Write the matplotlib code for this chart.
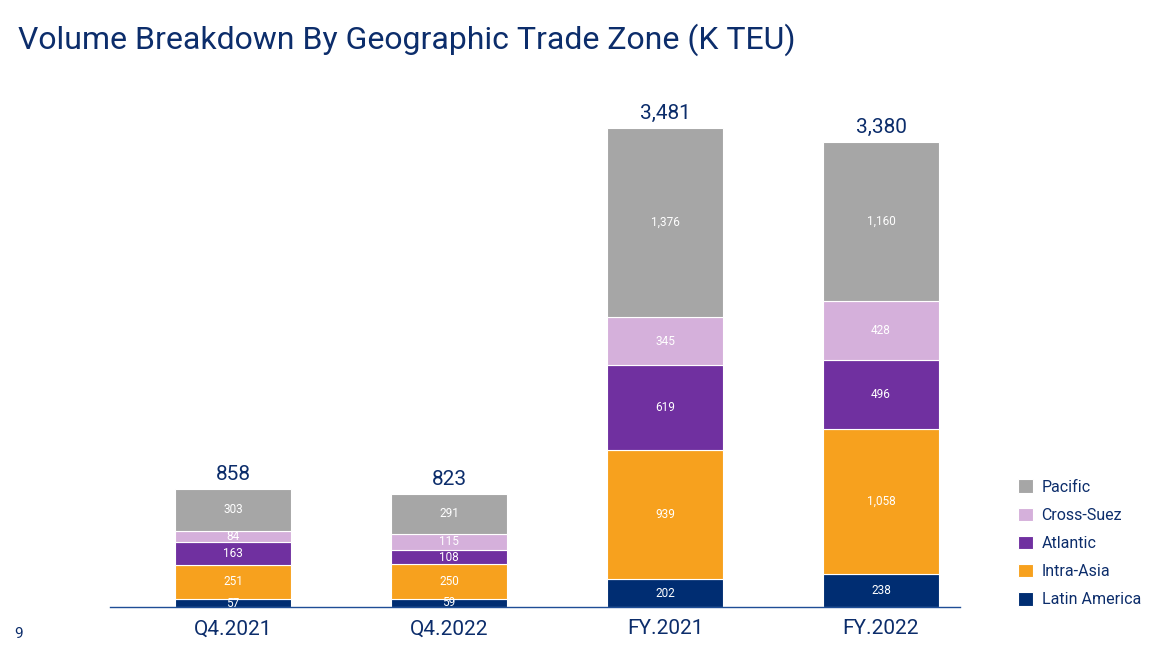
import numpy as np
import matplotlib.pyplot as plt

plt.rcParams['font.family'] = ['Liberation Sans Narrow', 'Roboto', 'DejaVu Sans']

periods = ['Q4.2021', 'Q4.2022', 'FY.2021', 'FY.2022']
latin_america = [57, 59, 202, 238]
intra_asia = [251, 250, 939, 1058]
atlantic = [163, 108, 619, 496]
cross_suez = [84, 115, 345, 428]
pacific = [303, 291, 1376, 1160]
totals = ['858', '823', '3,481', '3,380']
seg_labels = {
    'Latin America': ['57', '59', '202', '238'],
    'Intra-Asia': ['251', '250', '939', '1,058'],
    'Atlantic': ['163', '108', '619', '496'],
    'Cross-Suez': ['84', '115', '345', '428'],
    'Pacific': ['303', '291', '1,376', '1,160'],
}

navy = '#0c2d6b'
series = [
    ('Latin America', latin_america, '#002d72'),
    ('Intra-Asia', intra_asia, '#f7a11e'),
    ('Atlantic', atlantic, '#7030a0'),
    ('Cross-Suez', cross_suez, '#d5b0db'),
    ('Pacific', pacific, '#a6a6a6'),
]

fig = plt.figure(figsize=(11.76, 6.49), dpi=100)
ax = fig.add_axes([110 / 1176, 1 - 607 / 649, 850 / 1176, 507 / 649])

x = np.arange(len(periods))
bottom = np.zeros(len(periods))
handles = {}
for name, vals, col in series:
    vals = np.array(vals)
    b = ax.bar(x, vals, 0.537, bottom=bottom, color=col, edgecolor='white', linewidth=0.8)
    handles[name] = b
    for i in range(len(x)):
        ax.text(x[i], bottom[i] + vals[i] / 2, seg_labels[name][i], ha='center', va='center',
                color='white', fontsize=8.5, clip_on=True)
    bottom += vals

for i in range(len(x)):
    ax.text(x[i], bottom[i] + 38, totals[i], ha='center', va='bottom', color=navy, fontsize=15)

ax.set_xlim(-0.57, 3.366)
ax.set_ylim(0, 3684)
ax.set_yticks([])
ax.set_xticks(x)
ax.set_xticklabels(periods, fontsize=15, color=navy)
ax.tick_params(axis='x', length=0, pad=9)
for s in ['top', 'right', 'left']:
    ax.spines[s].set_visible(False)
ax.spines['bottom'].set_color('#1f4e96')
ax.spines['bottom'].set_linewidth(1)

order = ['Pacific', 'Cross-Suez', 'Atlantic', 'Intra-Asia', 'Latin America']
fig.legend([handles[n] for n in order], order, loc='upper left',
           bbox_to_anchor=(1004 / 1176, 1 - 465 / 649), frameon=False,
           fontsize=11.5, labelcolor=navy, handlelength=0.9, handleheight=0.9,
           labelspacing=0.82, handletextpad=0.55)

fig.text(18 / 1176, 1 - 40 / 649, 'Volume Breakdown By Geographic Trade Zone (K TEU)',
         fontsize=23, color=navy, va='center', ha='left')
fig.text(14 / 1176, 1 - 634 / 649, '9', fontsize=11, color=navy, va='center')

fig.savefig('out.png', dpi=100)
